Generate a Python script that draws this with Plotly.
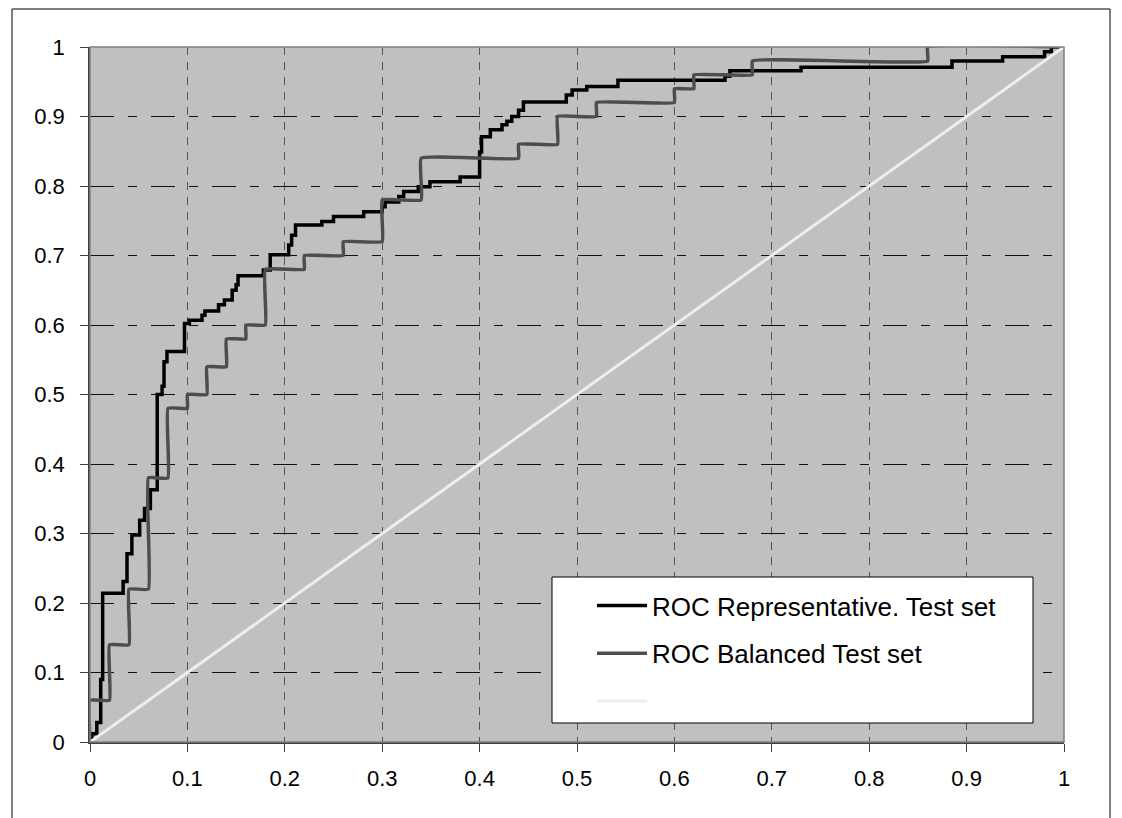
import plotly.graph_objects as go

# ---- data ----
rep_fpr = [0, 0.002, 0.007, 0.011, 0.013, 0.034, 0.038, 0.043, 0.051, 0.056, 0.062, 0.069,
           0.074, 0.076, 0.079, 0.097, 0.102, 0.115, 0.118, 0.132, 0.138, 0.146, 0.150,
           0.152, 0.178, 0.185, 0.204, 0.207, 0.211, 0.238, 0.250, 0.281, 0.300, 0.303,
           0.317, 0.322, 0.337, 0.349, 0.380, 0.400, 0.402, 0.411, 0.423, 0.428, 0.433,
           0.440, 0.445, 0.489, 0.495, 0.510, 0.542, 0.652, 0.657, 0.730, 0.885, 0.937,
           0.980, 0.987, 1.0]
rep_tpr = [0, 0.012, 0.028, 0.090, 0.214, 0.231, 0.271, 0.298, 0.319, 0.336, 0.363, 0.500,
           0.512, 0.547, 0.562, 0.602, 0.607, 0.614, 0.620, 0.629, 0.636, 0.650, 0.658,
           0.671, 0.679, 0.701, 0.715, 0.729, 0.744, 0.749, 0.756, 0.763, 0.770, 0.777,
           0.785, 0.792, 0.799, 0.806, 0.813, 0.849, 0.871, 0.881, 0.888, 0.893, 0.900,
           0.909, 0.921, 0.931, 0.938, 0.943, 0.952, 0.958, 0.966, 0.971, 0.980, 0.986,
           0.993, 1.0, 1.0]

bal_fpr = [0, 0, 0.02, 0.04, 0.06, 0.08, 0.10, 0.12, 0.14, 0.16, 0.18, 0.22, 0.26, 0.30,
           0.34, 0.44, 0.48, 0.52, 0.60, 0.62, 0.68, 0.86, 1.0]
bal_tpr = [0, 0.06, 0.14, 0.22, 0.38, 0.48, 0.50, 0.54, 0.58, 0.60, 0.68, 0.70, 0.72, 0.78,
           0.84, 0.86, 0.90, 0.92, 0.94, 0.96, 0.98, 1.0, 1.0]

diag_x = [0, 1]
diag_y = [0, 1]

tick_vals = [0, 0.1, 0.2, 0.3, 0.4, 0.5, 0.6, 0.7, 0.8, 0.9, 1]
tick_text = ["0", "0.1", "0.2", "0.3", "0.4", "0.5", "0.6", "0.7", "0.8", "0.9", "1"]

names = ["ROC Representative. Test set", "ROC Balanced Test set", " "]


def step_vertices(xs, ys):
    vx, vy = [xs[0]], [ys[0]]
    for i in range(1, len(xs)):
        cx, cy = xs[i], ys[i - 1]
        if (cx, cy) != (vx[-1], vy[-1]):
            vx.append(cx)
            vy.append(cy)
        if (xs[i], ys[i]) != (vx[-1], vy[-1]):
            vx.append(xs[i])
            vy.append(ys[i])
    return vx, vy


bvx, bvy = step_vertices(bal_fpr, bal_tpr)

FONT = "Liberation Sans, Arial, sans-serif"

fig = go.Figure()
fig.add_trace(go.Scatter(x=rep_fpr, y=rep_tpr, mode="lines", name=names[0],
                         legendgroup="a",
                         line=dict(color="#000000", width=3.5, shape="hv")))
fig.add_trace(go.Scatter(x=bvx, y=bvy, mode="lines", name=names[1],
                         legendgroup="b",
                         line=dict(color="#4d4d4d", width=3.5, shape="spline", smoothing=0.3)))
fig.add_trace(go.Scatter(x=diag_x, y=diag_y, mode="lines", name=names[2],
                         legendgroup="c",
                         line=dict(color="#eeeeee", width=3)))

W, H = 1122, 818
OFF = 8  # page body margin
# plot-area edges in page pixels
L, R, T, B = 90, 1064, 47, 742


def px_x(p):
    return (p - L) / (R - L)


def px_y(p):
    return (B - p) / (B - T)


shapes = [
    # outer chart border
    dict(type="rect", xref="paper", yref="paper",
         x0=px_x(12), x1=px_x(1110), y0=px_y(840), y1=px_y(9),
         line=dict(color="#000000", width=1), fillcolor="rgba(0,0,0,0)", layer="below"),
    # plot area top/right border
    dict(type="rect", xref="paper", yref="paper", x0=0, x1=1, y0=0, y1=1,
         line=dict(color="#808080", width=1.5), fillcolor="rgba(0,0,0,0)", layer="above"),
    # legend box
    dict(type="rect", xref="paper", yref="paper",
         x0=px_x(552), x1=px_x(1033), y0=px_y(723), y1=px_y(577),
         line=dict(color="#000000", width=1), fillcolor="#ffffff", layer="above"),
]

fig.update_layout(
    width=W, height=H,
    margin=dict(l=L - OFF, r=W - (R - OFF), t=T - OFF, b=H - (B - OFF), pad=0),
    paper_bgcolor="#ffffff",
    plot_bgcolor="#c0c0c0",
    font=dict(family=FONT, size=22, color="#000000"),
    shapes=shapes,
    showlegend=True,
    legend=dict(x=px_x(592), y=px_y(582), xanchor="left", yanchor="top",
                bgcolor="rgba(0,0,0,0)", borderwidth=0,
                font=dict(family=FONT, size=26, color="#000000"),
                tracegroupgap=11, itemwidth=50),
)

fig.update_xaxes(range=[0, 1], tickvals=tick_vals, ticktext=tick_text,
                 showgrid=True, gridcolor="#555555", griddash="8px,7px", gridwidth=1,
                 showline=True, linecolor="#404040", linewidth=1.5,
                 ticks="outside", ticklen=8, tickcolor="#404040", tickwidth=1,
                 ticklabelstandoff=8,
                 zeroline=False, fixedrange=True)
fig.update_yaxes(range=[0, 1], tickvals=tick_vals, ticktext=tick_text,
                 showgrid=True, gridcolor="#111111", griddash="24px,14px,9px,14px", gridwidth=1,
                 showline=True, linecolor="#404040", linewidth=1.5,
                 ticks="outside", ticklen=8, tickcolor="#404040", tickwidth=1,
                 ticklabelstandoff=11,
                 zeroline=False, fixedrange=True)

fig.write_html("out.html")
